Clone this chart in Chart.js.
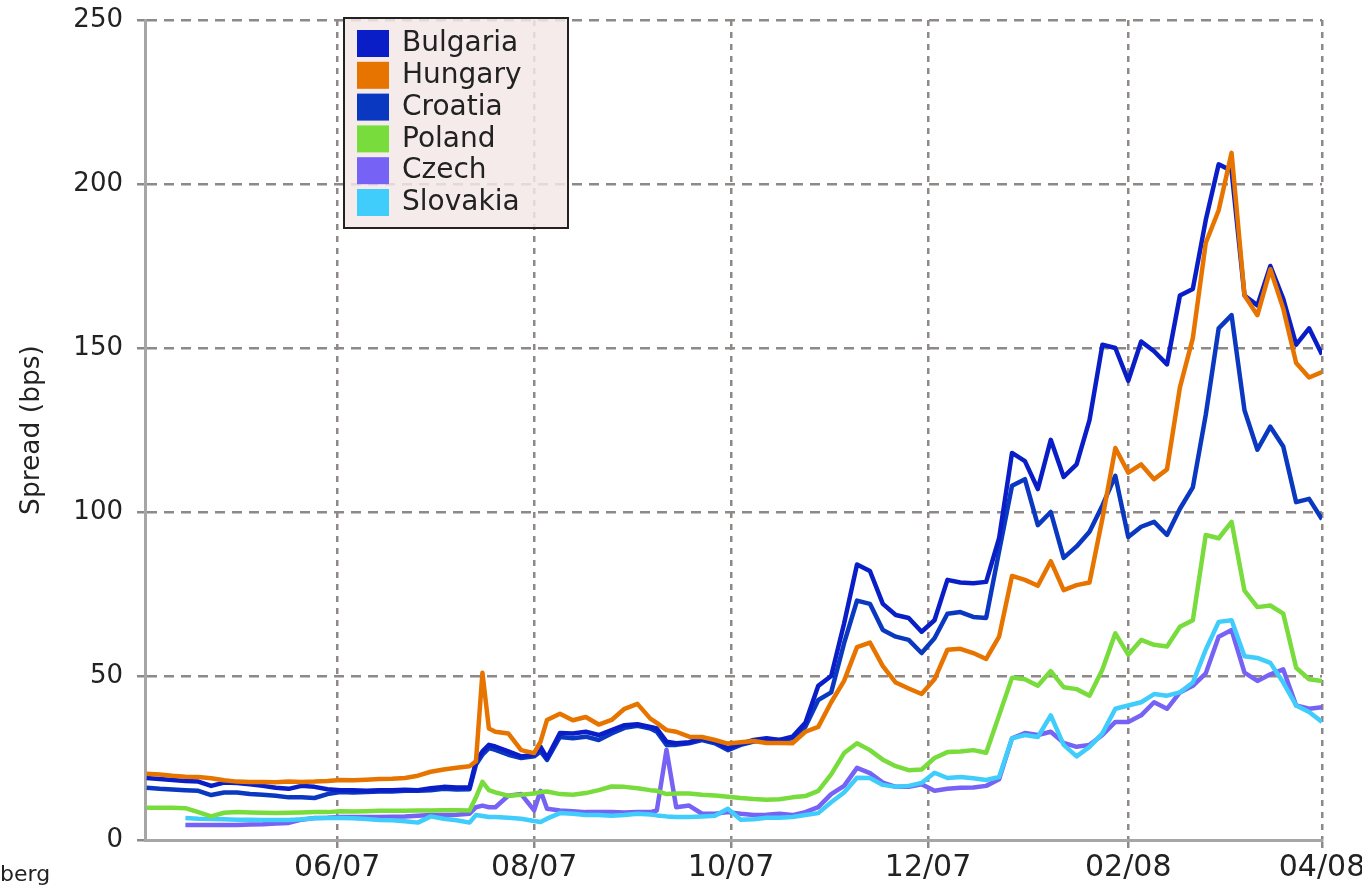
<!DOCTYPE html>
<html>
<head>
<meta charset="UTF-8">
<title>Spread (bps)</title>
<script src="https://cdn.jsdelivr.net/npm/chart.js"></script>
<style>
	*{margin:0; padding:0;}
	body{background:#fff;}
	canvas{display:block;}
</style>
</head>
<body>
<canvas id="myChart" width="1362" height="887"></canvas>
<script>
// x = days counted from 1 Apr 2007
const days = [2,6,10,14,18,22,26,30,34,38,42,46,50,54,58,62,66,70,74,78,82,86,90,94,98,102,
	104,106,108,110,114,118,122,124,126,130,134,138,142,146,150,154,158,160,163,
	166,170,174,178,182,186,190,194,198,202,206,210,214,218,222,226,230,234,238,242,
	246,250,254,258,262,266,270,274,278,282,286,290,294,298,302,306,310,314,318,322,
	326,330,334,338,342,346,350,354,358,362,366];

const tickDays = [61, 122, 183, 244, 306, 366];
const tickLabels = ['06/07', '08/07', '10/07', '12/07', '02/08', '04/08'];

const bulgaria = [18.9,18.6,18.3,18.0,17.8,16.5,17.5,17.4,17.0,16.5,15.9,15.6,16.5,16.2,15.5,15.2,15.2,15.0,15.2,15.2,15.3,15.2,15.8,16.2,16.0,16.0,
	24,27,29,28.5,27,25.5,26,28.4,25,32.6,32.5,33,32,33.5,35,35.3,34.5,34,30,
	29.5,29.8,31,30,28,29.3,30.5,31,30.5,31.5,35.7,47,50,66,84,82,72,68.6,67.7,63.5,
	67,79.3,78.5,78.3,78.7,92,118,115.5,107,122,110.7,114.5,128,151,150,140,152,149,145,166,
	168,189,206,204,166,163,175,165,151,156,148];

const hungary = [20.2,20.0,19.6,19.3,19.2,18.8,18.2,17.8,17.7,17.7,17.6,17.8,17.7,17.8,18.0,18.3,18.2,18.4,18.6,18.7,18.9,19.6,20.8,21.5,22.0,22.5,
	24,51,34,33,32.5,27.4,26.5,30,36.6,38.5,36.5,37.5,35.2,36.6,40,41.5,37,35.7,33.5,
	33,31.5,31.4,30.5,29.4,29.8,30.2,29.6,29.6,29.5,33,34.5,42,48.5,58.8,60.2,53,48,46.2,44.5,
	49,58,58.3,57,55.2,62,80.5,79.3,77.5,85,76.2,77.7,78.5,98,119.5,112,114.5,110,113,138,
	153,182,192,209.5,166,160,174,162,145.4,141,142.7];

const croatia = [15.9,15.6,15.4,15.2,15.0,13.7,14.5,14.5,14.0,13.8,13.5,13.0,13.0,12.8,14.0,14.6,14.5,14.6,14.8,14.8,15.0,15.0,15.2,15.6,15.4,15.5,
	23,26,28,27.5,26,25,25.5,27,24.4,31.4,31,31.5,30.5,32.5,34.2,34.8,34,33,29,
	29,29.5,30.5,29.5,27.4,29,30,30.5,30.5,31,34.5,42.7,45,60,73,72,64,62,61,57,
	61.5,69,69.5,68,67.7,88,108,110,96,100,86,89.5,94,102,111,92.4,95.5,97,93,101,
	107.5,129.6,156,160,131,119,126,120,103,104,97.8];

const poland = [9.8,9.8,9.8,9.7,8.5,7.2,8.3,8.5,8.4,8.3,8.2,8.3,8.4,8.5,8.5,8.8,8.7,8.8,8.9,8.9,8.9,9.0,9.0,9.1,9.1,9.0,
	13,17.7,15.2,14.5,13.5,13.8,14.2,14.6,14.8,14,13.8,14.3,15.2,16.3,16.2,15.8,15.2,15,14,
	14.2,14.2,13.8,13.6,13.2,12.8,12.5,12.3,12.4,13,13.4,15,20,26.5,29.5,27.4,24.5,22.5,21.3,21.5,
	25,26.8,27,27.4,26.6,38,49.5,49,47,51.5,46.6,46,44,52,63,56.5,61,59.5,59,65,
	67,93,92,97,76,71,71.5,69,52.5,49,48.5];

const czech = [null,null,null,4.6,4.6,4.6,4.6,4.6,4.7,4.8,5.0,5.2,6.2,6.7,6.8,7.0,7.0,7.0,7.0,7.1,7.2,7.4,7.6,7.6,7.7,8.0,
	10,10.5,10,10,13.5,14,9,15,9.5,9,8.8,8.5,8.5,8.5,8.4,8.5,8.5,9,27.5,
	10,10.5,8,8,8.5,8,7.6,7.7,8,7.6,8.5,10,14,16.5,22,20.4,17.5,16.2,16.2,17,
	15,15.6,15.9,16,16.5,18.5,31,32.6,32,33,29.6,28.4,29,32,36,36,38,42,40,45,
	47,50.8,62,64,51,48.5,50.5,52,41,40,40.5];

const slovakia = [null,null,null,6.7,6.5,6.4,6.3,6.2,6.2,6.1,6.1,6.1,6.3,6.6,6.7,6.7,6.6,6.4,6.1,6.0,5.7,5.3,7.2,6.5,6.0,5.3,
	7.6,7.3,7,7,6.8,6.5,5.8,5.5,6.5,8.2,8.0,7.6,7.6,7.4,7.6,8.0,7.8,7.5,7.2,
	7.0,7.0,7.2,7.4,9.5,6.2,6.3,6.8,6.8,7,7.6,8.2,11.5,14.5,19,18.9,16.8,16.2,16.5,17.4,
	20.5,18.9,19.2,18.8,18.3,19.2,31,32,31.4,38,29,25.5,28.4,32.5,40,41,42,44.5,44,45,
	48,58,66.5,67,56,55.5,54,48,41,39,36];

function pts(vals) {
	return days.map((d, i) => ({x: d, y: vals[i]}));
}

function series(label, vals, color, order) {
	return {
		label: label,
		data: pts(vals),
		borderColor: color,
		backgroundColor: color,
		borderWidth: 4.5,
		pointRadius: 0,
		tension: 0,
		borderJoinStyle: 'round',
		order: order
	};
}

// legend box drawn inside the plot, plus the cut source note
const boxLegend = {
	id: 'boxLegend',
	afterDraw(chart) {
		const ctx = chart.ctx;
		ctx.save();
		ctx.fillStyle = 'rgba(243,231,231,0.85)';
		ctx.fillRect(344, 18, 224, 210);
		ctx.strokeStyle = '#222';
		ctx.lineWidth = 2;
		ctx.strokeRect(344, 18, 224, 210);
		ctx.font = '28px "DejaVu Sans"';
		ctx.textBaseline = 'middle';
		chart.data.datasets.forEach((ds, i) => {
			const y = 43 + i * 31.8;
			ctx.fillStyle = ds.borderColor;
			ctx.fillRect(357, y - 13, 32, 27);
			ctx.fillStyle = '#222';
			ctx.fillText(ds.label, 402, y + 1);
		});
		ctx.font = '22px "DejaVu Sans"';
		ctx.textBaseline = 'alphabetic';
		ctx.fillStyle = '#222';
		ctx.fillText('berg', 0, 881);
		ctx.restore();
	}
};

Chart.defaults.font.family = '"DejaVu Sans", sans-serif';
Chart.defaults.color = '#222';

const ctx = document.getElementById('myChart');
new Chart(ctx, {
	type: 'line',
	data: {
		datasets: [
			series('Bulgaria', bulgaria, '#0a1ec8', 2),
			series('Hungary', hungary, '#e87400', 1),
			series('Croatia', croatia, '#0a38c0', 3),
			series('Poland', poland, '#78dc3c', 4),
			series('Czech', czech, '#7662f4', 6),
			series('Slovakia', slovakia, '#40cdfc', 5)
		]
	},
	options: {
		responsive: false,
		devicePixelRatio: 1,
		animation: false,
		layout: {padding: {top: 20, right: 40, left: 0, bottom: 0}},
		plugins: {
			legend: {display: false},
			tooltip: {enabled: false}
		},
		scales: {
			x: {
				type: 'linear',
				min: 1.5,
				max: 366,
				afterBuildTicks: s => { s.ticks = tickDays.map(v => ({value: v})); },
				afterFit: s => { s.height = 47; s.paddingLeft = 0; s.paddingRight = 0; },
				ticks: {
					autoSkip: false,
					maxRotation: 0,
					padding: 2,
					font: {size: 30},
					callback: v => tickLabels[tickDays.indexOf(v)]
				},
				grid: {color: '#8e8987', lineWidth: 2.5, tickLength: 8, tickColor: '#8e8987'},
				border: {display: true, color: '#a6a6a6', width: 3, dash: [6, 6]}
			},
			y: {
				min: 0,
				max: 250,
				afterFit: s => { s.width = 145; s.paddingTop = 0; s.paddingBottom = 0; },
				ticks: {stepSize: 50, padding: 14, font: {size: 26}},
				grid: {color: '#8e8987', lineWidth: 2.5, tickLength: 8, tickColor: '#8e8987'},
				border: {display: true, color: '#a6a6a6', width: 3, dash: [10, 7]},
				title: {display: true, text: 'Spread (bps)', font: {size: 26.5}, padding: {top: 16, bottom: 0}}
			}
		}
	},
	plugins: [boxLegend]
});
</script>
</body>
</html>
